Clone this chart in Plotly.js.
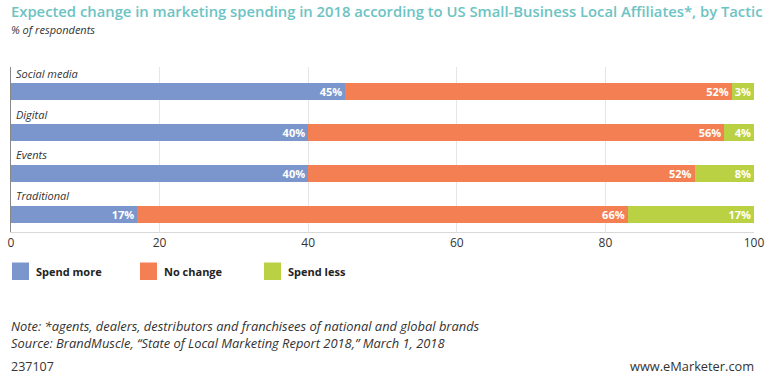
<!DOCTYPE html>
<html><head><meta charset="utf-8">
<script src="https://cdn.plot.ly/plotly-3.0.1.min.js"></script>
<style>html,body{margin:0;padding:0;background:#fff;}#chart{width:773px;height:376px;}</style>
</head><body><div id="chart"></div>
<script>
var categories = ["Social media", "Digital", "Events", "Traditional"];
var seriesNames = ["Spend more", "No change", "Spend less"];
var spendMore = [45, 40, 40, 17];
var noChange = [52, 56, 52, 66];
var spendLess = [3, 4, 8, 17];
var xTicks = [0, 20, 40, 60, 80, 100];
var titleText = "Expected change in marketing spending in 2018 according to US Small-Business Local Affiliates*, by Tactic";
var subtitleText = "% of respondents";
var noteText = "Note: *agents, dealers, destributors and franchisees of national and global brands";
var sourceText = "Source: BrandMuscle, \u201cState of Local Marketing Report 2018,\u201d March 1, 2018";
var idText = "237107";
var siteText = "www.eMarketer.com";

var colors = ["#7b96cc", "#f47f53", "#b9d142"];
var FONT = "Open Sans, sans-serif";
var values = [spendMore, noChange, spendLess];

var traces = values.map(function(v, i) {
  return {
    type: "bar", orientation: "h", name: seriesNames[i],
    x: v, y: categories, width: 0.415,
    marker: {color: colors[i], line: {width: 0}},
    text: v.map(function(d){ return d + "%"; }),
    textposition: "inside", insidetextanchor: "end",
    textfont: {family: FONT, size: 11, color: "#ffffff", weight: 700},
    constraintext: "none", cliponaxis: false,
    hoverinfo: "skip"
  };
});

var annotations = [];
categories.forEach(function(c) {
  annotations.push({xref: "x", yref: "y", x: 0, y: c, xanchor: "left", yanchor: "middle",
    xshift: 3, yshift: 18.5, showarrow: false, text: "<i>" + c + "</i>",
    font: {family: FONT, size: 11, color: "#333"}});
});
annotations.push({xref: "paper", yref: "paper", x: 0, y: 1, xanchor: "left", yanchor: "middle",
  xshift: -2, yshift: 38, showarrow: false, text: "<i>" + subtitleText + "</i>",
  font: {family: FONT, size: 11, color: "#333"}});

var legendX = [1, 129, 253];
var shapes = [];
seriesNames.forEach(function(n, i) {
  shapes.push({type: "rect", xref: "paper", yref: "paper", xsizemode: "pixel", ysizemode: "pixel",
    xanchor: 0, yanchor: 0, x0: legendX[i], x1: legendX[i] + 17, y0: -30.5, y1: -48,
    fillcolor: colors[i], line: {width: 0}});
  annotations.push({xref: "paper", yref: "paper", x: 0, y: 0, xanchor: "left", yanchor: "middle",
    xshift: legendX[i] + 22, yshift: -39.5, showarrow: false, text: "<b>" + n + "</b>",
    font: {family: FONT, size: 11, color: "#222"}});
});
annotations.push({xref: "paper", yref: "paper", x: 0, y: 0, xanchor: "left", yanchor: "middle",
  xshift: -2, yshift: -102, showarrow: false, align: "left",
  text: "<i>" + noteText + "</i><br><i>" + sourceText + "</i>",
  font: {family: FONT, size: 12.9, color: "#333"}});
annotations.push({xref: "paper", yref: "paper", x: 0, y: 0, xanchor: "left", yanchor: "middle",
  xshift: -2, yshift: -134, showarrow: false, text: idText,
  font: {family: FONT, size: 12.5, color: "#333"}});
annotations.push({xref: "paper", yref: "paper", x: 1, y: 0, xanchor: "right", yanchor: "middle",
  xshift: 2, yshift: -134, showarrow: false, text: siteText,
  font: {family: FONT, size: 12.8, color: "#333"}});

var layout = {
  width: 773, height: 376,
  margin: {l: 11, r: 19, t: 67, b: 144, pad: 0},
  paper_bgcolor: "#fff", plot_bgcolor: "#fff",
  barmode: "stack", showlegend: false,
  title: {text: titleText, x: 11/773, xanchor: "left", xref: "container",
    y: 1 - 12/376, yanchor: "middle", yref: "container",
    font: {family: FONT, size: 14.8, color: "#6cc3c3", weight: 600}},
  xaxis: {range: [0, 100], tickvals: xTicks, ticktext: xTicks.map(String),
    showgrid: true, gridcolor: "#e6e6e6", gridwidth: 1, zeroline: false,
    showline: true, linecolor: "#d9d9d9", linewidth: 1, ticks: "",
    tickfont: {family: FONT, size: 12, color: "#333"}, fixedrange: true},
  yaxis: {type: "category", categoryarray: categories, range: [3.43, -0.6],
    showticklabels: false, showgrid: false, zeroline: false, ticks: "",
    showline: true, linecolor: "#888", linewidth: 1, fixedrange: true},
  annotations: annotations, shapes: shapes,
  uniformtext: {mode: false}
};

Plotly.newPlot("chart", traces, layout, {displayModeBar: false, staticPlot: true});
</script></body></html>
